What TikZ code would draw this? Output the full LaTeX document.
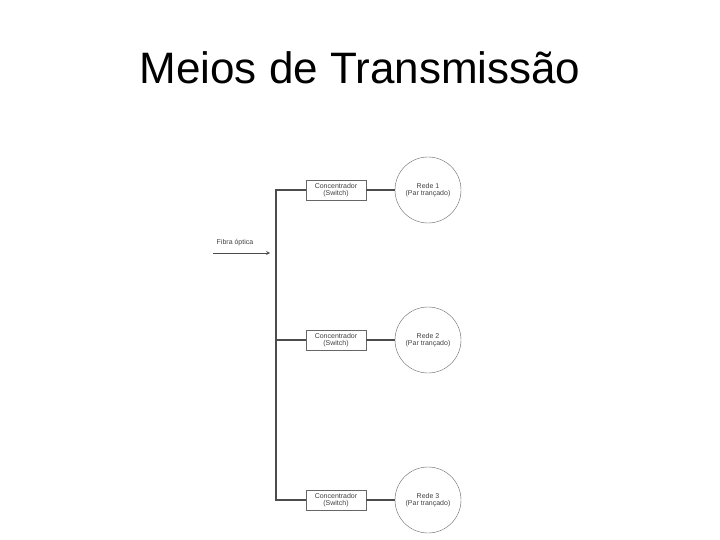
\documentclass[tikz,border=0pt]{standalone}
\usepackage{fontspec}
\setmainfont{Liberation Sans}
\begin{document}
\begin{tikzpicture}[x=1pt,y=-1pt,
  sw/.style={draw=black!60,fill=white,minimum width=60pt,minimum height=20pt,inner sep=1pt,align=center,font=\fontsize{7}{7.5}\selectfont,text=black!75},
  net/.style={circle,draw=black!60,minimum size=66pt,inner sep=0pt,align=center,font=\fontsize{7}{7.5}\selectfont,text=black!75},
  bus/.style={line width=2pt,black!70}]
\useasboundingbox (0,0) rectangle (720,540);
\node (title) at (360,68) {\fontsize{44}{48}\selectfont Meios de Transmissão};
\coordinate (top) at (276,190);
\coordinate (bot) at (276,500);
\coordinate (mid) at (276,340);
\node[sw] (s1) at (336,190) {Concentrador\\(Switch)};
\node[sw] (s2) at (336,340) {Concentrador\\(Switch)};
\node[sw] (s3) at (336,500) {Concentrador\\(Switch)};
\node[net] (r1) at (428,190) {Rede 1\\(Par trançado)};
\node[net] (r2) at (428,340) {Rede 2\\(Par trançado)};
\node[net] (r3) at (428,500) {Rede 3\\(Par trançado)};
\draw[bus] (s1.west) -- (top) -- (bot) -- (s3.west);
\draw[bus] (mid) -- (s2.west);
\draw[bus] (s1) -- (r1); \draw[bus] (s2) -- (r2); \draw[bus] (s3) -- (r3);
\coordinate (fa) at (213,253);
\coordinate (fb) at (270,253);
\draw[-stealth,black!70,line width=0.7pt] (fa) -- (fb);
\node[font=\fontsize{7}{7.5}\selectfont,text=black!75] (fl) at (235,243) {Fibra óptica};
\end{tikzpicture}
\end{document}
